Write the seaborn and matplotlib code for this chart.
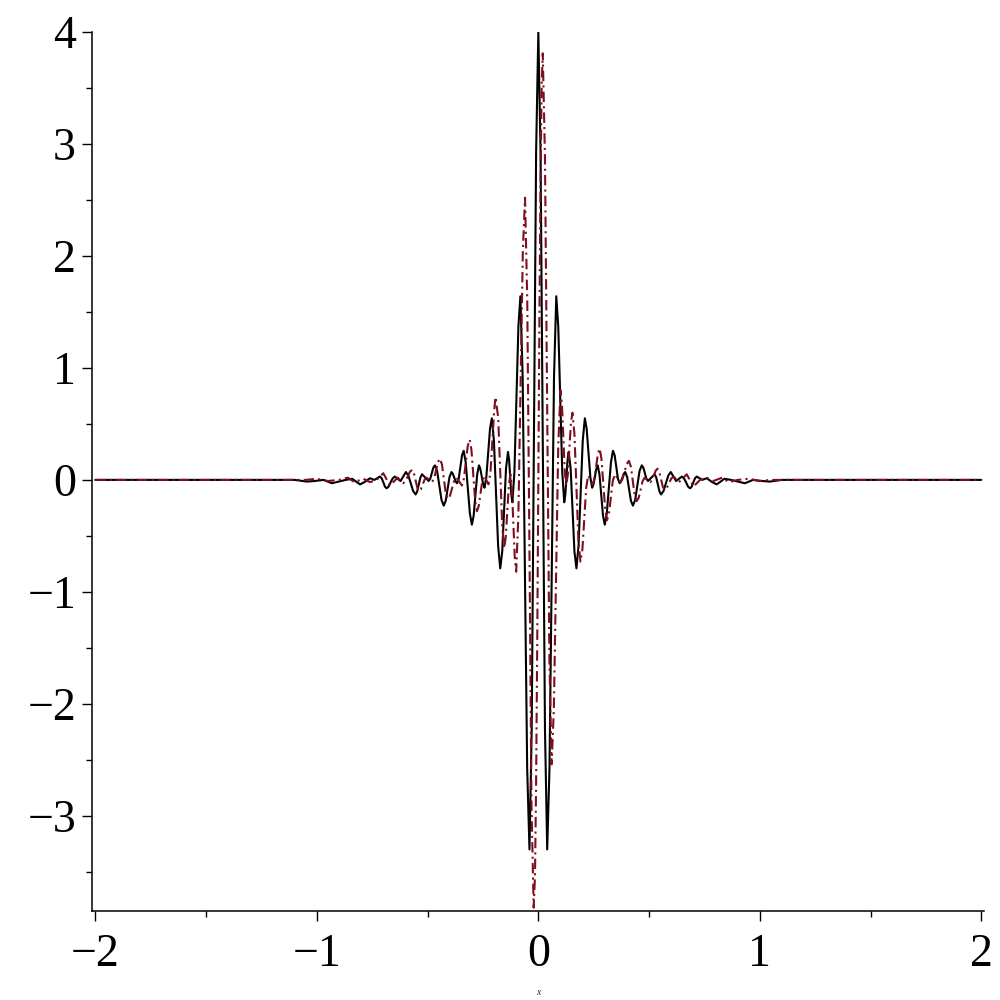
"""
plot.py
Two oscillating wavelet-like curves (solid black and dash-dot dark red) on [-2, 2].
Values are read off the reference picture.

Run: python plot.py
"""

import matplotlib
matplotlib.use("Agg")
import matplotlib.pyplot as plt
import matplotlib.ticker as mticker
import seaborn as sns

# ── data: black solid curve, left half (x < 0) ───────────────────────────────
black_left_x = [-2.0, -1.1, -1.045, -1.01, -0.97, -0.932, -0.90, -0.87, -0.84, -0.823,
                -0.805, -0.785, -0.76, -0.74, -0.715, -0.7075, -0.70, -0.6925, -0.685,
                -0.676, -0.6665, -0.657, -0.648, -0.635, -0.622, -0.61, -0.598, -0.587,
                -0.576, -0.565, -0.554, -0.547, -0.5395, -0.532, -0.525, -0.51, -0.495,
                -0.488, -0.481, -0.474, -0.467, -0.457, -0.447, -0.437, -0.427, -0.418,
                -0.4095, -0.401, -0.392, -0.386, -0.3795, -0.373, -0.367, -0.3595, -0.352,
                -0.3445, -0.337, -0.328, -0.3185, -0.309, -0.30, -0.292, -0.284, -0.276,
                -0.268, -0.262, -0.2555, -0.249, -0.243, -0.235, -0.2265, -0.218, -0.21,
                -0.2005, -0.191, -0.1815, -0.172, -0.163, -0.1545, -0.146, -0.137, -0.132,
                -0.127, -0.122, -0.117, -0.108, -0.099, -0.09, -0.081, -0.0708, -0.0605,
                -0.0503, -0.04, -0.03, -0.02, -0.01]
black_left_y = [0.0, 0.0, -0.015, -0.01, 0.0, -0.03, -0.015, 0.0, 0.01, -0.015,
                -0.04, -0.02, 0.015, 0.0, 0.03, 0.015, -0.02, -0.06, -0.075,
                -0.06, -0.02, 0.015, 0.03, 0.01, -0.01, 0.03, 0.07, 0.04,
                -0.03, -0.10, -0.13, -0.104, -0.04, 0.024, 0.05, 0.02, -0.01,
                0.01, 0.06, 0.11, 0.13, 0.08, -0.05, -0.18, -0.23, -0.186,
                -0.08, 0.026, 0.07, 0.055, 0.02, -0.015, -0.03, 0.01, 0.115,
                0.22, 0.26, 0.16, -0.07, -0.30, -0.40, -0.32, -0.135, 0.05,
                0.13, 0.10, 0.03, -0.04, -0.07, 0.02, 0.24, 0.46, 0.55,
                0.35, -0.12, -0.59, -0.79, -0.64, -0.27, 0.10, 0.25, 0.18,
                0.025, -0.13, -0.20, 0.07, 0.72, 1.37, 1.64, 0.92, -0.83,
                -2.58, -3.30, -2.23, 0.35, 2.93]

# ── data: black solid curve, right half (x >= 0) ─────────────────────────────
black_right_x = [0.0, 0.01, 0.02, 0.03, 0.04, 0.0503, 0.0605, 0.0708, 0.081, 0.09,
                 0.099, 0.108, 0.117, 0.122, 0.127, 0.132, 0.137, 0.146, 0.1545,
                 0.163, 0.172, 0.1815, 0.191, 0.2005, 0.21, 0.218, 0.2265, 0.235,
                 0.243, 0.249, 0.2555, 0.262, 0.268, 0.276, 0.284, 0.292, 0.30,
                 0.309, 0.3185, 0.328, 0.337, 0.3445, 0.352, 0.3595, 0.367, 0.373,
                 0.3795, 0.386, 0.392, 0.401, 0.4095, 0.418, 0.427, 0.437, 0.447,
                 0.457, 0.467, 0.474, 0.481, 0.488, 0.495, 0.51, 0.525, 0.532,
                 0.5395, 0.547, 0.554, 0.565, 0.576, 0.587, 0.598, 0.61, 0.622,
                 0.635, 0.648, 0.657, 0.6665, 0.676, 0.685, 0.6925, 0.70, 0.7075,
                 0.715, 0.74, 0.76, 0.785, 0.805, 0.823, 0.84, 0.87, 0.90, 0.932,
                 0.97, 1.01, 1.045, 1.1, 2.0]
black_right_y = [4.00, 2.93, 0.35, -2.23, -3.30, -2.58, -0.83, 0.92, 1.64, 1.37,
                 0.72, 0.07, -0.20, -0.13, 0.025, 0.18, 0.25, 0.10, -0.27,
                 -0.64, -0.79, -0.59, -0.12, 0.35, 0.55, 0.46, 0.24, 0.02,
                 -0.07, -0.04, 0.03, 0.10, 0.13, 0.05, -0.135, -0.32, -0.40,
                 -0.30, -0.07, 0.16, 0.26, 0.22, 0.115, 0.01, -0.03, -0.015,
                 0.02, 0.055, 0.07, 0.026, -0.08, -0.186, -0.23, -0.18, -0.05,
                 0.08, 0.13, 0.11, 0.06, 0.01, -0.01, 0.02, 0.05, 0.024,
                 -0.04, -0.104, -0.13, -0.10, -0.03, 0.04, 0.07, 0.03, -0.01,
                 0.01, 0.03, 0.015, -0.02, -0.06, -0.075, -0.06, -0.02, 0.015,
                 0.03, 0.0, 0.015, -0.02, -0.04, -0.015, 0.01, 0.0, -0.015, -0.03,
                 0.0, -0.01, -0.015, 0.0, 0.0]

# ── data: dark red dash-dot curve, left half (x < 0) ─────────────────────────
red_left_x = [-2.0, -1.05, -1.0, -0.95, -0.9, -0.86, -0.83, -0.79, -0.76, -0.73,
              -0.715, -0.70, -0.685, -0.67, -0.6525, -0.635, -0.6225, -0.61, -0.60,
              -0.59, -0.58, -0.57, -0.562, -0.554, -0.546, -0.538, -0.53, -0.5215,
              -0.5135, -0.505, -0.4925, -0.48, -0.471, -0.462, -0.453, -0.444, -0.435,
              -0.4265, -0.418, -0.409, -0.399, -0.3895, -0.38, -0.37, -0.3575, -0.345,
              -0.336, -0.3275, -0.319, -0.31, -0.302, -0.2935, -0.285, -0.277, -0.269,
              -0.261, -0.253, -0.245, -0.235, -0.225, -0.216, -0.2075, -0.199, -0.193,
              -0.181, -0.172, -0.163, -0.154, -0.147, -0.14, -0.133, -0.126, -0.1195,
              -0.113, -0.1065, -0.10, -0.09, -0.08, -0.07, -0.06, -0.05, -0.04,
              -0.031, -0.021, -0.015, -0.01, -0.005]
red_left_y = [0.0, 0.0, 0.01, -0.01, 0.0, 0.02, -0.02, 0.01, -0.02, 0.0,
              0.03, 0.06, 0.005, -0.05, -0.015, 0.02, -0.005, -0.03, -0.012,
              0.03, 0.072, 0.09, 0.062, -0.005, -0.072, -0.10, -0.083, -0.04,
              0.003, 0.02, 0.0, -0.02, 0.01, 0.085, 0.16, 0.19, 0.137,
              0.01, -0.117, -0.17, -0.142, -0.075, -0.008, 0.02, -0.015, -0.05,
              0.01, 0.155, 0.30, 0.36, 0.267, 0.04, -0.187, -0.28, -0.233,
              -0.12, -0.007, 0.04, 0.0, -0.04, 0.07, 0.345, 0.63, 0.74,
              0.55, 0.065, -0.41, -0.61, -0.51, -0.275, -0.045, 0.05, -0.07,
              -0.38, -0.69, -0.82, -0.31, 0.87, 2.04, 2.52, 1.60, -0.64,
              -2.89, -3.82, -3.53, -2.70, -1.46]

# ── data: dark red dash-dot curve, right half (x >= 0) ───────────────────────
red_right_x = [0.0, 0.005, 0.01, 0.015, 0.02, 0.03, 0.04, 0.05, 0.06, 0.07,
               0.08, 0.09, 0.10, 0.1065, 0.113, 0.1195, 0.126, 0.133, 0.14,
               0.147, 0.154, 0.163, 0.172, 0.181, 0.19, 0.199, 0.2075, 0.216,
               0.225, 0.235, 0.245, 0.253, 0.261, 0.269, 0.277, 0.285, 0.2935,
               0.302, 0.31, 0.319, 0.3275, 0.336, 0.345, 0.3575, 0.37, 0.38,
               0.3895, 0.399, 0.409, 0.418, 0.4265, 0.435, 0.444, 0.453, 0.462,
               0.471, 0.48, 0.4925, 0.505, 0.5135, 0.5215, 0.53, 0.538, 0.546,
               0.554, 0.562, 0.57, 0.58, 0.59, 0.60, 0.61, 0.6225, 0.635, 0.6525,
               0.67, 0.685, 0.70, 0.715, 0.73, 0.76, 0.79, 0.83, 0.86, 0.9,
               0.95, 1.0, 1.05, 2.0]
red_right_y = [0.0, 1.46, 2.70, 3.52, 3.81, 2.88, 0.635, -1.61, -2.54, -2.05,
               -0.87, 0.31, 0.80, 0.68, 0.375, 0.07, -0.05, 0.045, 0.275,
               0.505, 0.60, 0.41, -0.065, -0.54, -0.73, -0.62, -0.345, -0.07,
               0.04, 0.0, -0.04, 0.007, 0.12, 0.233, 0.28, 0.187, -0.04,
               -0.267, -0.36, -0.30, -0.155, -0.01, 0.05, 0.015, -0.02, 0.008,
               0.075, 0.142, 0.17, 0.117, -0.01, -0.137, -0.19, -0.16, -0.085,
               -0.01, 0.02, 0.0, -0.02, -0.003, 0.04, 0.083, 0.10, 0.072,
               0.005, -0.062, -0.09, -0.072, -0.03, 0.012, 0.03, 0.005, -0.02, 0.015,
               0.05, -0.005, -0.06, -0.03, 0.0, 0.02, -0.01, 0.02, -0.02, 0.0,
               0.01, -0.01, 0.0, 0.0]

x_ticks = [-2, -1, 0, 1, 2]
y_ticks = [-3, -2, -1, 0, 1, 2, 3, 4]

BLACK = "#000000"
DARK_RED = "#7d0f1f"


def tick_text(v):
    return f"\u2212{abs(v)}" if v < 0 else str(v)


sns.set_style("ticks")
plt.rcParams["font.family"] = ["Liberation Serif", "DejaVu Serif"]

fig = plt.figure(figsize=(10, 10), dpi=100)
ax = fig.add_axes([0.092, 0.089, 0.892, 0.879])

sns.lineplot(x=black_left_x + black_right_x, y=black_left_y + black_right_y,
             ax=ax, color=BLACK, linewidth=1.5, sort=False, estimator=None)
sns.lineplot(x=red_left_x + red_right_x, y=red_left_y + red_right_y,
             ax=ax, color=DARK_RED, linewidth=1.5, sort=False, estimator=None,
             linestyle=(0, (5, 2, 1, 2)))

ax.set_xlim(-2.015, 2.012)
ax.set_ylim(-3.85, 4.0)

ax.xaxis.set_major_locator(mticker.FixedLocator(x_ticks))
ax.yaxis.set_major_locator(mticker.FixedLocator(y_ticks))
ax.xaxis.set_minor_locator(mticker.MultipleLocator(0.5))
ax.yaxis.set_minor_locator(mticker.MultipleLocator(0.5))
ax.set_xticklabels([tick_text(v) for v in x_ticks])
ax.set_yticklabels([tick_text(v) for v in y_ticks])

for side in ("top", "right"):
    ax.spines[side].set_visible(False)
for side in ("left", "bottom"):
    ax.spines[side].set_linewidth(1.1)
    ax.spines[side].set_color("black")

ax.tick_params(which="major", length=7.5, width=1.0, labelsize=33,
               colors="black", direction="out")
ax.tick_params(axis="y", which="major", pad=4)
ax.tick_params(axis="x", which="major", pad=9)
ax.tick_params(which="minor", length=4, width=1.0, colors="black", direction="out")

ax.set_xlabel("x", fontsize=7, style="italic", labelpad=8)
ax.set_ylabel("")

fig.savefig("out.png", dpi=100)
plt.close(fig)
